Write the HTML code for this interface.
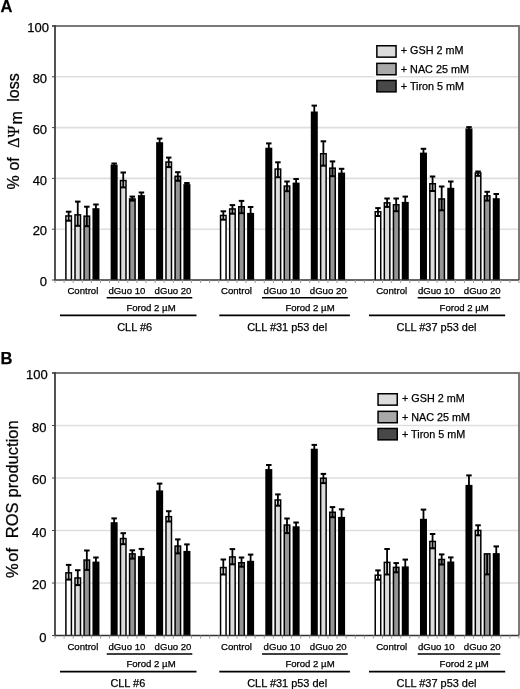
<!DOCTYPE html>
<html><head><meta charset="utf-8"><style>
html,body{margin:0;padding:0;background:#fff;}
svg{display:block;will-change:transform;}
text{font-family:"Liberation Sans", sans-serif;fill:#000;stroke:#000;stroke-width:0.25px;}
</style></head><body>
<svg width="520" height="689" viewBox="0 0 520 689">
<rect width="520" height="689" fill="#fff"/>
<line x1="56" y1="229.2" x2="518" y2="229.2" stroke="#dedede" stroke-width="1.6"/>
<line x1="56" y1="178.4" x2="518" y2="178.4" stroke="#dedede" stroke-width="1.6"/>
<line x1="56" y1="127.6" x2="518" y2="127.6" stroke="#dedede" stroke-width="1.6"/>
<line x1="56" y1="76.8" x2="518" y2="76.8" stroke="#dedede" stroke-width="1.6"/>
<rect x="65.15" y="215.2" width="7" height="64.8" fill="#000"/>
<rect x="66.65" y="216.7" width="4" height="63.3" fill="#ffffff"/>
<rect x="65.9" y="210.7" width="5.5" height="2" fill="#000"/>
<rect x="65.9" y="219.7" width="5.5" height="2" fill="#000"/>
<rect x="67.75" y="211.7" width="1.8" height="9" fill="#000"/>
<rect x="74.25" y="214.1" width="7" height="65.9" fill="#000"/>
<rect x="75.75" y="215.6" width="4" height="64.4" fill="#dcdcdc"/>
<rect x="75" y="200.6" width="5.5" height="2" fill="#000"/>
<rect x="75" y="224.8" width="5.5" height="2" fill="#000"/>
<rect x="76.85" y="201.6" width="1.8" height="24.2" fill="#000"/>
<rect x="83.34" y="215.4" width="7" height="64.6" fill="#000"/>
<rect x="84.84" y="216.9" width="4" height="63.1" fill="#959595"/>
<rect x="84.09" y="205.7" width="5.5" height="2" fill="#000"/>
<rect x="84.09" y="225.2" width="5.5" height="2" fill="#000"/>
<rect x="85.94" y="206.7" width="1.8" height="19.5" fill="#000"/>
<rect x="92.44" y="208.2" width="7" height="71.8" fill="#000"/>
<rect x="93.19" y="203.5" width="5.5" height="2" fill="#000"/>
<rect x="95.04" y="204.5" width="1.8" height="9.4" fill="#000"/>
<rect x="110.64" y="164.6" width="7" height="115.4" fill="#000"/>
<rect x="111.39" y="162.5" width="5.5" height="2" fill="#000"/>
<rect x="113.24" y="163.5" width="1.8" height="4.2" fill="#000"/>
<rect x="119.74" y="179.8" width="7" height="100.2" fill="#000"/>
<rect x="121.24" y="181.3" width="4" height="98.7" fill="#dcdcdc"/>
<rect x="120.49" y="171.5" width="5.5" height="2" fill="#000"/>
<rect x="120.49" y="186.4" width="5.5" height="2" fill="#000"/>
<rect x="122.34" y="172.5" width="1.8" height="14.9" fill="#000"/>
<rect x="128.83" y="198.2" width="7" height="81.8" fill="#000"/>
<rect x="130.33" y="199.7" width="4" height="80.3" fill="#959595"/>
<rect x="129.58" y="195.6" width="5.5" height="2" fill="#000"/>
<rect x="129.58" y="199.6" width="5.5" height="2" fill="#000"/>
<rect x="131.43" y="196.6" width="1.8" height="4" fill="#000"/>
<rect x="137.93" y="195.1" width="7" height="84.9" fill="#000"/>
<rect x="138.68" y="191.5" width="5.5" height="2" fill="#000"/>
<rect x="140.53" y="192.5" width="1.8" height="7.2" fill="#000"/>
<rect x="156.13" y="142.2" width="7" height="137.8" fill="#000"/>
<rect x="156.88" y="137.6" width="5.5" height="2" fill="#000"/>
<rect x="158.73" y="138.6" width="1.8" height="9.2" fill="#000"/>
<rect x="165.23" y="161.3" width="7" height="118.7" fill="#000"/>
<rect x="166.73" y="162.8" width="4" height="117.2" fill="#dcdcdc"/>
<rect x="165.98" y="156.6" width="5.5" height="2" fill="#000"/>
<rect x="165.98" y="166.1" width="5.5" height="2" fill="#000"/>
<rect x="167.83" y="157.6" width="1.8" height="9.5" fill="#000"/>
<rect x="174.32" y="175.5" width="7" height="104.5" fill="#000"/>
<rect x="175.82" y="177" width="4" height="103" fill="#959595"/>
<rect x="175.07" y="171.2" width="5.5" height="2" fill="#000"/>
<rect x="175.07" y="179.8" width="5.5" height="2" fill="#000"/>
<rect x="176.92" y="172.2" width="1.8" height="8.6" fill="#000"/>
<rect x="183.42" y="184.1" width="7" height="95.9" fill="#000"/>
<rect x="184.17" y="182" width="5.5" height="2" fill="#000"/>
<rect x="186.02" y="183" width="1.8" height="4.2" fill="#000"/>
<rect x="219.81" y="214.7" width="7" height="65.3" fill="#000"/>
<rect x="221.31" y="216.2" width="4" height="63.8" fill="#ffffff"/>
<rect x="220.56" y="210.3" width="5.5" height="2" fill="#000"/>
<rect x="220.56" y="218.7" width="5.5" height="2" fill="#000"/>
<rect x="222.41" y="211.3" width="1.8" height="8.4" fill="#000"/>
<rect x="228.91" y="208.2" width="7" height="71.8" fill="#000"/>
<rect x="230.41" y="209.7" width="4" height="70.3" fill="#dcdcdc"/>
<rect x="229.66" y="204.1" width="5.5" height="2" fill="#000"/>
<rect x="229.66" y="212.7" width="5.5" height="2" fill="#000"/>
<rect x="231.51" y="205.1" width="1.8" height="8.6" fill="#000"/>
<rect x="238.01" y="206" width="7" height="74" fill="#000"/>
<rect x="239.51" y="207.5" width="4" height="72.5" fill="#959595"/>
<rect x="238.76" y="199.9" width="5.5" height="2" fill="#000"/>
<rect x="238.76" y="212.2" width="5.5" height="2" fill="#000"/>
<rect x="240.61" y="200.9" width="1.8" height="12.3" fill="#000"/>
<rect x="247.11" y="212.9" width="7" height="67.1" fill="#000"/>
<rect x="247.86" y="206" width="5.5" height="2" fill="#000"/>
<rect x="249.71" y="207" width="1.8" height="13.8" fill="#000"/>
<rect x="265.3" y="147.7" width="7" height="132.3" fill="#000"/>
<rect x="266.05" y="142.4" width="5.5" height="2" fill="#000"/>
<rect x="267.9" y="143.4" width="1.8" height="10.6" fill="#000"/>
<rect x="274.4" y="168.3" width="7" height="111.7" fill="#000"/>
<rect x="275.9" y="169.8" width="4" height="110.2" fill="#dcdcdc"/>
<rect x="275.15" y="161.3" width="5.5" height="2" fill="#000"/>
<rect x="275.15" y="176.3" width="5.5" height="2" fill="#000"/>
<rect x="277" y="162.3" width="1.8" height="15" fill="#000"/>
<rect x="283.5" y="185.3" width="7" height="94.7" fill="#000"/>
<rect x="285" y="186.8" width="4" height="93.2" fill="#959595"/>
<rect x="284.25" y="180.5" width="5.5" height="2" fill="#000"/>
<rect x="284.25" y="190.2" width="5.5" height="2" fill="#000"/>
<rect x="286.1" y="181.5" width="1.8" height="9.7" fill="#000"/>
<rect x="292.6" y="182.6" width="7" height="97.4" fill="#000"/>
<rect x="293.35" y="178" width="5.5" height="2" fill="#000"/>
<rect x="295.2" y="179" width="1.8" height="9.2" fill="#000"/>
<rect x="310.79" y="111.5" width="7" height="168.5" fill="#000"/>
<rect x="311.54" y="104.6" width="5.5" height="2" fill="#000"/>
<rect x="313.39" y="105.6" width="1.8" height="13.8" fill="#000"/>
<rect x="319.89" y="153" width="7" height="127" fill="#000"/>
<rect x="321.39" y="154.5" width="4" height="125.5" fill="#dcdcdc"/>
<rect x="320.64" y="140.3" width="5.5" height="2" fill="#000"/>
<rect x="320.64" y="164.7" width="5.5" height="2" fill="#000"/>
<rect x="322.49" y="141.3" width="1.8" height="24.4" fill="#000"/>
<rect x="328.99" y="167.4" width="7" height="112.6" fill="#000"/>
<rect x="330.49" y="168.9" width="4" height="111.1" fill="#959595"/>
<rect x="329.74" y="160.4" width="5.5" height="2" fill="#000"/>
<rect x="329.74" y="175.2" width="5.5" height="2" fill="#000"/>
<rect x="331.59" y="161.4" width="1.8" height="14.8" fill="#000"/>
<rect x="338.09" y="172.6" width="7" height="107.4" fill="#000"/>
<rect x="338.84" y="167.8" width="5.5" height="2" fill="#000"/>
<rect x="340.69" y="168.8" width="1.8" height="9.6" fill="#000"/>
<rect x="374.48" y="211" width="7" height="69" fill="#000"/>
<rect x="375.98" y="212.5" width="4" height="67.5" fill="#ffffff"/>
<rect x="375.23" y="207.1" width="5.5" height="2" fill="#000"/>
<rect x="375.23" y="215" width="5.5" height="2" fill="#000"/>
<rect x="377.08" y="208.1" width="1.8" height="7.9" fill="#000"/>
<rect x="383.58" y="202.1" width="7" height="77.9" fill="#000"/>
<rect x="385.08" y="203.6" width="4" height="76.4" fill="#dcdcdc"/>
<rect x="384.33" y="197.5" width="5.5" height="2" fill="#000"/>
<rect x="384.33" y="205.9" width="5.5" height="2" fill="#000"/>
<rect x="386.18" y="198.5" width="1.8" height="8.4" fill="#000"/>
<rect x="392.68" y="204" width="7" height="76" fill="#000"/>
<rect x="394.18" y="205.5" width="4" height="74.5" fill="#959595"/>
<rect x="393.43" y="197.5" width="5.5" height="2" fill="#000"/>
<rect x="393.43" y="210.2" width="5.5" height="2" fill="#000"/>
<rect x="395.28" y="198.5" width="1.8" height="12.7" fill="#000"/>
<rect x="401.77" y="201.9" width="7" height="78.1" fill="#000"/>
<rect x="402.52" y="195.6" width="5.5" height="2" fill="#000"/>
<rect x="404.37" y="196.6" width="1.8" height="12.6" fill="#000"/>
<rect x="419.97" y="152.6" width="7" height="127.4" fill="#000"/>
<rect x="420.72" y="147.8" width="5.5" height="2" fill="#000"/>
<rect x="422.57" y="148.8" width="1.8" height="9.6" fill="#000"/>
<rect x="429.07" y="183" width="7" height="97" fill="#000"/>
<rect x="430.57" y="184.5" width="4" height="95.5" fill="#dcdcdc"/>
<rect x="429.82" y="175.5" width="5.5" height="2" fill="#000"/>
<rect x="429.82" y="190" width="5.5" height="2" fill="#000"/>
<rect x="431.67" y="176.5" width="1.8" height="14.5" fill="#000"/>
<rect x="438.17" y="198.2" width="7" height="81.8" fill="#000"/>
<rect x="439.67" y="199.7" width="4" height="80.3" fill="#959595"/>
<rect x="438.92" y="185.5" width="5.5" height="2" fill="#000"/>
<rect x="438.92" y="209.3" width="5.5" height="2" fill="#000"/>
<rect x="440.77" y="186.5" width="1.8" height="23.8" fill="#000"/>
<rect x="447.26" y="187.8" width="7" height="92.2" fill="#000"/>
<rect x="448.01" y="180.5" width="5.5" height="2" fill="#000"/>
<rect x="449.86" y="181.5" width="1.8" height="14.6" fill="#000"/>
<rect x="465.46" y="128.4" width="7" height="151.6" fill="#000"/>
<rect x="466.21" y="126.1" width="5.5" height="2" fill="#000"/>
<rect x="468.06" y="127.1" width="1.8" height="4.6" fill="#000"/>
<rect x="474.56" y="172.2" width="7" height="107.8" fill="#000"/>
<rect x="476.06" y="173.7" width="4" height="106.3" fill="#dcdcdc"/>
<rect x="475.31" y="170.5" width="5.5" height="2" fill="#000"/>
<rect x="475.31" y="174.8" width="5.5" height="2" fill="#000"/>
<rect x="477.16" y="171.5" width="1.8" height="4.3" fill="#000"/>
<rect x="483.66" y="195.1" width="7" height="84.9" fill="#000"/>
<rect x="485.16" y="196.6" width="4" height="83.4" fill="#959595"/>
<rect x="484.41" y="190.8" width="5.5" height="2" fill="#000"/>
<rect x="484.41" y="199.6" width="5.5" height="2" fill="#000"/>
<rect x="486.26" y="191.8" width="1.8" height="8.8" fill="#000"/>
<rect x="492.75" y="198.2" width="7" height="81.8" fill="#000"/>
<rect x="493.5" y="193" width="5.5" height="2" fill="#000"/>
<rect x="495.35" y="194" width="1.8" height="10.4" fill="#000"/>
<line x1="52" y1="26" x2="520" y2="26" stroke="#7a7a7a" stroke-width="2"/>
<line x1="519" y1="26" x2="519" y2="280" stroke="#7a7a7a" stroke-width="2"/>
<line x1="52" y1="280" x2="55" y2="280" stroke="#444" stroke-width="1"/>
<line x1="52" y1="229.2" x2="55" y2="229.2" stroke="#444" stroke-width="1"/>
<line x1="52" y1="178.4" x2="55" y2="178.4" stroke="#444" stroke-width="1"/>
<line x1="52" y1="127.6" x2="55" y2="127.6" stroke="#444" stroke-width="1"/>
<line x1="52" y1="76.8" x2="55" y2="76.8" stroke="#444" stroke-width="1"/>
<line x1="52" y1="26" x2="55" y2="26" stroke="#444" stroke-width="1"/>
<line x1="55" y1="25" x2="55" y2="280.75" stroke="#404040" stroke-width="1.8"/>
<line x1="55" y1="280" x2="519" y2="280" stroke="#333" stroke-width="1.5"/>
<line x1="55" y1="280" x2="55" y2="283" stroke="#9a9a9a" stroke-width="1"/>
<line x1="64.1" y1="280" x2="64.1" y2="283" stroke="#9a9a9a" stroke-width="1"/>
<line x1="73.2" y1="280" x2="73.2" y2="283" stroke="#9a9a9a" stroke-width="1"/>
<line x1="82.29" y1="280" x2="82.29" y2="283" stroke="#9a9a9a" stroke-width="1"/>
<line x1="91.39" y1="280" x2="91.39" y2="283" stroke="#9a9a9a" stroke-width="1"/>
<line x1="100.49" y1="280" x2="100.49" y2="283" stroke="#9a9a9a" stroke-width="1"/>
<line x1="109.59" y1="280" x2="109.59" y2="283" stroke="#9a9a9a" stroke-width="1"/>
<line x1="118.69" y1="280" x2="118.69" y2="283" stroke="#9a9a9a" stroke-width="1"/>
<line x1="127.78" y1="280" x2="127.78" y2="283" stroke="#9a9a9a" stroke-width="1"/>
<line x1="136.88" y1="280" x2="136.88" y2="283" stroke="#9a9a9a" stroke-width="1"/>
<line x1="145.98" y1="280" x2="145.98" y2="283" stroke="#9a9a9a" stroke-width="1"/>
<line x1="155.08" y1="280" x2="155.08" y2="283" stroke="#9a9a9a" stroke-width="1"/>
<line x1="164.18" y1="280" x2="164.18" y2="283" stroke="#9a9a9a" stroke-width="1"/>
<line x1="173.27" y1="280" x2="173.27" y2="283" stroke="#9a9a9a" stroke-width="1"/>
<line x1="182.37" y1="280" x2="182.37" y2="283" stroke="#9a9a9a" stroke-width="1"/>
<line x1="191.47" y1="280" x2="191.47" y2="283" stroke="#9a9a9a" stroke-width="1"/>
<line x1="200.57" y1="280" x2="200.57" y2="283" stroke="#9a9a9a" stroke-width="1"/>
<line x1="209.67" y1="280" x2="209.67" y2="283" stroke="#9a9a9a" stroke-width="1"/>
<line x1="218.76" y1="280" x2="218.76" y2="283" stroke="#9a9a9a" stroke-width="1"/>
<line x1="227.86" y1="280" x2="227.86" y2="283" stroke="#9a9a9a" stroke-width="1"/>
<line x1="236.96" y1="280" x2="236.96" y2="283" stroke="#9a9a9a" stroke-width="1"/>
<line x1="246.06" y1="280" x2="246.06" y2="283" stroke="#9a9a9a" stroke-width="1"/>
<line x1="255.16" y1="280" x2="255.16" y2="283" stroke="#9a9a9a" stroke-width="1"/>
<line x1="264.25" y1="280" x2="264.25" y2="283" stroke="#9a9a9a" stroke-width="1"/>
<line x1="273.35" y1="280" x2="273.35" y2="283" stroke="#9a9a9a" stroke-width="1"/>
<line x1="282.45" y1="280" x2="282.45" y2="283" stroke="#9a9a9a" stroke-width="1"/>
<line x1="291.55" y1="280" x2="291.55" y2="283" stroke="#9a9a9a" stroke-width="1"/>
<line x1="300.65" y1="280" x2="300.65" y2="283" stroke="#9a9a9a" stroke-width="1"/>
<line x1="309.74" y1="280" x2="309.74" y2="283" stroke="#9a9a9a" stroke-width="1"/>
<line x1="318.84" y1="280" x2="318.84" y2="283" stroke="#9a9a9a" stroke-width="1"/>
<line x1="327.94" y1="280" x2="327.94" y2="283" stroke="#9a9a9a" stroke-width="1"/>
<line x1="337.04" y1="280" x2="337.04" y2="283" stroke="#9a9a9a" stroke-width="1"/>
<line x1="346.14" y1="280" x2="346.14" y2="283" stroke="#9a9a9a" stroke-width="1"/>
<line x1="355.23" y1="280" x2="355.23" y2="283" stroke="#9a9a9a" stroke-width="1"/>
<line x1="364.33" y1="280" x2="364.33" y2="283" stroke="#9a9a9a" stroke-width="1"/>
<line x1="373.43" y1="280" x2="373.43" y2="283" stroke="#9a9a9a" stroke-width="1"/>
<line x1="382.53" y1="280" x2="382.53" y2="283" stroke="#9a9a9a" stroke-width="1"/>
<line x1="391.63" y1="280" x2="391.63" y2="283" stroke="#9a9a9a" stroke-width="1"/>
<line x1="400.72" y1="280" x2="400.72" y2="283" stroke="#9a9a9a" stroke-width="1"/>
<line x1="409.82" y1="280" x2="409.82" y2="283" stroke="#9a9a9a" stroke-width="1"/>
<line x1="418.92" y1="280" x2="418.92" y2="283" stroke="#9a9a9a" stroke-width="1"/>
<line x1="428.02" y1="280" x2="428.02" y2="283" stroke="#9a9a9a" stroke-width="1"/>
<line x1="437.12" y1="280" x2="437.12" y2="283" stroke="#9a9a9a" stroke-width="1"/>
<line x1="446.21" y1="280" x2="446.21" y2="283" stroke="#9a9a9a" stroke-width="1"/>
<line x1="455.31" y1="280" x2="455.31" y2="283" stroke="#9a9a9a" stroke-width="1"/>
<line x1="464.41" y1="280" x2="464.41" y2="283" stroke="#9a9a9a" stroke-width="1"/>
<line x1="473.51" y1="280" x2="473.51" y2="283" stroke="#9a9a9a" stroke-width="1"/>
<line x1="482.61" y1="280" x2="482.61" y2="283" stroke="#9a9a9a" stroke-width="1"/>
<line x1="491.7" y1="280" x2="491.7" y2="283" stroke="#9a9a9a" stroke-width="1"/>
<line x1="500.8" y1="280" x2="500.8" y2="283" stroke="#9a9a9a" stroke-width="1"/>
<line x1="509.9" y1="280" x2="509.9" y2="283" stroke="#9a9a9a" stroke-width="1"/>
<line x1="519" y1="280" x2="519" y2="283" stroke="#9a9a9a" stroke-width="1"/>
<text x="47.1" y="286.2" font-size="13" text-anchor="end">0</text>
<text x="47.1" y="235.4" font-size="13" text-anchor="end">20</text>
<text x="47.1" y="184.6" font-size="13" text-anchor="end">40</text>
<text x="47.1" y="133.8" font-size="13" text-anchor="end">60</text>
<text x="47.1" y="83" font-size="13" text-anchor="end">80</text>
<text x="48.9" y="32.2" font-size="13" text-anchor="end">100</text>
<text x="0.4" y="12.4" font-size="16.5" font-weight="bold">A</text>
<rect x="374.6" y="43.5" width="23.7" height="15.9" fill="#fff"/>
<rect x="376.85" y="45.75" width="19.2" height="11.4" fill="#dcdcdc" stroke="#000" stroke-width="1.5"/>
<text x="400.8" y="54" font-size="10.8">+ GSH 2 mM</text>
<rect x="374.6" y="61.1" width="23.7" height="15.9" fill="#fff"/>
<rect x="376.85" y="63.35" width="19.2" height="11.4" fill="#a8a8a8" stroke="#000" stroke-width="1.5"/>
<text x="400.8" y="72.5" font-size="10.8">+ NAC 25 mM</text>
<rect x="374.6" y="78.2" width="23.7" height="15.9" fill="#fff"/>
<rect x="376.85" y="80.45" width="19.2" height="11.4" fill="#484848" stroke="#000" stroke-width="1.5"/>
<text x="400.8" y="90.2" font-size="10.8">+ Tiron 5 mM</text>
<text x="67.4" y="293.9" font-size="9.6">Control</text>
<text x="108.5" y="293.9" font-size="9.6">dGuo 10</text>
<text x="154.6" y="293.9" font-size="9.6">dGuo 20</text>
<text x="221" y="293.9" font-size="9.6">Control</text>
<text x="263.6" y="293.9" font-size="9.6">dGuo 10</text>
<text x="309.8" y="293.9" font-size="9.6">dGuo 20</text>
<text x="376.2" y="293.9" font-size="9.6">Control</text>
<text x="417.9" y="293.9" font-size="9.6">dGuo 10</text>
<text x="463.8" y="293.9" font-size="9.6">dGuo 20</text>
<line x1="106.7" y1="297.8" x2="192.3" y2="297.8" stroke="#000" stroke-width="1.6"/>
<text x="126.4" y="310.6" font-size="9.6">Forod 2 µM</text>
<line x1="262" y1="297.8" x2="347.8" y2="297.8" stroke="#000" stroke-width="1.6"/>
<text x="285.4" y="310.6" font-size="9.6">Forod 2 µM</text>
<line x1="417.7" y1="297.8" x2="500.3" y2="297.8" stroke="#000" stroke-width="1.6"/>
<text x="439.6" y="310.6" font-size="9.6">Forod 2 µM</text>
<line x1="60" y1="315.4" x2="196.5" y2="315.4" stroke="#000" stroke-width="1.6"/>
<text x="117.2" y="330.5" font-size="10.95">CLL #6</text>
<line x1="219.3" y1="315.4" x2="349.9" y2="315.4" stroke="#000" stroke-width="1.6"/>
<text x="247.2" y="330.5" font-size="10.95">CLL #31 p53 del</text>
<line x1="369" y1="315.4" x2="505.2" y2="315.4" stroke="#000" stroke-width="1.6"/>
<text x="396.6" y="330.5" font-size="10.95">CLL #37 p53 del</text>
<g font-size="16">
<text transform="translate(18.6,189.6) rotate(-90)">%</text>
<text transform="translate(18.6,170.6) rotate(-90)">of</text>
<text transform="translate(18.6,147.8) rotate(-90)" style="font-family:'Liberation Serif', serif">Δ</text>
<text transform="translate(18.6,137.6) rotate(-90)" style="font-family:'Liberation Serif', serif">Ψ</text>
<text transform="translate(22.4,124.6) rotate(-90)">m</text>
<text transform="translate(18.6,101.8) rotate(-90)">loss</text>
</g>
<line x1="56" y1="583" x2="518" y2="583" stroke="#dedede" stroke-width="1.6"/>
<line x1="56" y1="530.5" x2="518" y2="530.5" stroke="#dedede" stroke-width="1.6"/>
<line x1="56" y1="478" x2="518" y2="478" stroke="#dedede" stroke-width="1.6"/>
<line x1="56" y1="425.5" x2="518" y2="425.5" stroke="#dedede" stroke-width="1.6"/>
<rect x="65.15" y="572.1" width="7" height="63.4" fill="#000"/>
<rect x="66.65" y="573.6" width="4" height="61.9" fill="#ffffff"/>
<rect x="65.9" y="563.9" width="5.5" height="2" fill="#000"/>
<rect x="65.9" y="578.6" width="5.5" height="2" fill="#000"/>
<rect x="67.75" y="564.9" width="1.8" height="14.7" fill="#000"/>
<rect x="74.25" y="577.2" width="7" height="58.3" fill="#000"/>
<rect x="75.75" y="578.7" width="4" height="56.8" fill="#dcdcdc"/>
<rect x="75" y="569.2" width="5.5" height="2" fill="#000"/>
<rect x="75" y="584.1" width="5.5" height="2" fill="#000"/>
<rect x="76.85" y="570.2" width="1.8" height="14.9" fill="#000"/>
<rect x="83.34" y="559.3" width="7" height="76.2" fill="#000"/>
<rect x="84.84" y="560.8" width="4" height="74.7" fill="#959595"/>
<rect x="84.09" y="549.5" width="5.5" height="2" fill="#000"/>
<rect x="84.09" y="568.9" width="5.5" height="2" fill="#000"/>
<rect x="85.94" y="550.5" width="1.8" height="19.4" fill="#000"/>
<rect x="92.44" y="561.6" width="7" height="73.9" fill="#000"/>
<rect x="93.19" y="556.5" width="5.5" height="2" fill="#000"/>
<rect x="95.04" y="557.5" width="1.8" height="10.2" fill="#000"/>
<rect x="110.64" y="522.2" width="7" height="113.3" fill="#000"/>
<rect x="111.39" y="517.4" width="5.5" height="2" fill="#000"/>
<rect x="113.24" y="518.4" width="1.8" height="9.6" fill="#000"/>
<rect x="119.74" y="537.8" width="7" height="97.7" fill="#000"/>
<rect x="121.24" y="539.3" width="4" height="96.2" fill="#dcdcdc"/>
<rect x="120.49" y="532.2" width="5.5" height="2" fill="#000"/>
<rect x="120.49" y="543.2" width="5.5" height="2" fill="#000"/>
<rect x="122.34" y="533.2" width="1.8" height="11" fill="#000"/>
<rect x="128.83" y="553.1" width="7" height="82.4" fill="#000"/>
<rect x="130.33" y="554.6" width="4" height="80.9" fill="#959595"/>
<rect x="129.58" y="549.3" width="5.5" height="2" fill="#000"/>
<rect x="129.58" y="557.6" width="5.5" height="2" fill="#000"/>
<rect x="131.43" y="550.3" width="1.8" height="8.3" fill="#000"/>
<rect x="137.93" y="556.1" width="7" height="79.4" fill="#000"/>
<rect x="138.68" y="547.9" width="5.5" height="2" fill="#000"/>
<rect x="140.53" y="548.9" width="1.8" height="16.4" fill="#000"/>
<rect x="156.13" y="490.4" width="7" height="145.1" fill="#000"/>
<rect x="156.88" y="482.6" width="5.5" height="2" fill="#000"/>
<rect x="158.73" y="483.6" width="1.8" height="15.6" fill="#000"/>
<rect x="165.23" y="515.9" width="7" height="119.6" fill="#000"/>
<rect x="166.73" y="517.4" width="4" height="118.1" fill="#dcdcdc"/>
<rect x="165.98" y="510.2" width="5.5" height="2" fill="#000"/>
<rect x="165.98" y="520.5" width="5.5" height="2" fill="#000"/>
<rect x="167.83" y="511.2" width="1.8" height="10.3" fill="#000"/>
<rect x="174.32" y="545.3" width="7" height="90.2" fill="#000"/>
<rect x="175.82" y="546.8" width="4" height="88.7" fill="#959595"/>
<rect x="175.07" y="538.4" width="5.5" height="2" fill="#000"/>
<rect x="175.07" y="552.4" width="5.5" height="2" fill="#000"/>
<rect x="176.92" y="539.4" width="1.8" height="14" fill="#000"/>
<rect x="183.42" y="550.9" width="7" height="84.6" fill="#000"/>
<rect x="184.17" y="543.4" width="5.5" height="2" fill="#000"/>
<rect x="186.02" y="544.4" width="1.8" height="15" fill="#000"/>
<rect x="219.81" y="566.8" width="7" height="68.7" fill="#000"/>
<rect x="221.31" y="568.3" width="4" height="67.2" fill="#ffffff"/>
<rect x="220.56" y="558.5" width="5.5" height="2" fill="#000"/>
<rect x="220.56" y="573.5" width="5.5" height="2" fill="#000"/>
<rect x="222.41" y="559.5" width="1.8" height="15" fill="#000"/>
<rect x="228.91" y="556.2" width="7" height="79.3" fill="#000"/>
<rect x="230.41" y="557.7" width="4" height="77.8" fill="#dcdcdc"/>
<rect x="229.66" y="548.1" width="5.5" height="2" fill="#000"/>
<rect x="229.66" y="563.3" width="5.5" height="2" fill="#000"/>
<rect x="231.51" y="549.1" width="1.8" height="15.2" fill="#000"/>
<rect x="238.01" y="562" width="7" height="73.5" fill="#000"/>
<rect x="239.51" y="563.5" width="4" height="72" fill="#959595"/>
<rect x="238.76" y="556.5" width="5.5" height="2" fill="#000"/>
<rect x="238.76" y="565.7" width="5.5" height="2" fill="#000"/>
<rect x="240.61" y="557.5" width="1.8" height="9.2" fill="#000"/>
<rect x="247.11" y="560.8" width="7" height="74.7" fill="#000"/>
<rect x="247.86" y="553.6" width="5.5" height="2" fill="#000"/>
<rect x="249.71" y="554.6" width="1.8" height="14.4" fill="#000"/>
<rect x="265.3" y="469.1" width="7" height="166.4" fill="#000"/>
<rect x="266.05" y="464" width="5.5" height="2" fill="#000"/>
<rect x="267.9" y="465" width="1.8" height="10.2" fill="#000"/>
<rect x="274.4" y="499.2" width="7" height="136.3" fill="#000"/>
<rect x="275.9" y="500.7" width="4" height="134.8" fill="#dcdcdc"/>
<rect x="275.15" y="493.4" width="5.5" height="2" fill="#000"/>
<rect x="275.15" y="504.7" width="5.5" height="2" fill="#000"/>
<rect x="277" y="494.4" width="1.8" height="11.3" fill="#000"/>
<rect x="283.5" y="524.3" width="7" height="111.2" fill="#000"/>
<rect x="285" y="525.8" width="4" height="109.7" fill="#959595"/>
<rect x="284.25" y="517.5" width="5.5" height="2" fill="#000"/>
<rect x="284.25" y="532.1" width="5.5" height="2" fill="#000"/>
<rect x="286.1" y="518.5" width="1.8" height="14.6" fill="#000"/>
<rect x="292.6" y="526.3" width="7" height="109.2" fill="#000"/>
<rect x="293.35" y="521.5" width="5.5" height="2" fill="#000"/>
<rect x="295.2" y="522.5" width="1.8" height="9.6" fill="#000"/>
<rect x="310.79" y="448.7" width="7" height="186.8" fill="#000"/>
<rect x="311.54" y="443.9" width="5.5" height="2" fill="#000"/>
<rect x="313.39" y="444.9" width="1.8" height="9.6" fill="#000"/>
<rect x="319.89" y="477.5" width="7" height="158" fill="#000"/>
<rect x="321.39" y="479" width="4" height="156.5" fill="#dcdcdc"/>
<rect x="320.64" y="472.9" width="5.5" height="2" fill="#000"/>
<rect x="320.64" y="482.1" width="5.5" height="2" fill="#000"/>
<rect x="322.49" y="473.9" width="1.8" height="9.2" fill="#000"/>
<rect x="328.99" y="511.5" width="7" height="124" fill="#000"/>
<rect x="330.49" y="513" width="4" height="122.5" fill="#959595"/>
<rect x="329.74" y="506.1" width="5.5" height="2" fill="#000"/>
<rect x="329.74" y="516.2" width="5.5" height="2" fill="#000"/>
<rect x="331.59" y="507.1" width="1.8" height="10.1" fill="#000"/>
<rect x="338.09" y="516.9" width="7" height="118.6" fill="#000"/>
<rect x="338.84" y="508.3" width="5.5" height="2" fill="#000"/>
<rect x="340.69" y="509.3" width="1.8" height="17.2" fill="#000"/>
<rect x="374.48" y="574.4" width="7" height="61.1" fill="#000"/>
<rect x="375.98" y="575.9" width="4" height="59.6" fill="#ffffff"/>
<rect x="375.23" y="569.4" width="5.5" height="2" fill="#000"/>
<rect x="375.23" y="578.7" width="5.5" height="2" fill="#000"/>
<rect x="377.08" y="570.4" width="1.8" height="9.3" fill="#000"/>
<rect x="383.58" y="561.6" width="7" height="73.9" fill="#000"/>
<rect x="385.08" y="563.1" width="4" height="72.4" fill="#dcdcdc"/>
<rect x="384.33" y="548" width="5.5" height="2" fill="#000"/>
<rect x="384.33" y="573.5" width="5.5" height="2" fill="#000"/>
<rect x="386.18" y="549" width="1.8" height="25.5" fill="#000"/>
<rect x="392.68" y="566.6" width="7" height="68.9" fill="#000"/>
<rect x="394.18" y="568.1" width="4" height="67.4" fill="#959595"/>
<rect x="393.43" y="562.1" width="5.5" height="2" fill="#000"/>
<rect x="393.43" y="571.3" width="5.5" height="2" fill="#000"/>
<rect x="395.28" y="563.1" width="1.8" height="9.2" fill="#000"/>
<rect x="401.77" y="566.4" width="7" height="69.1" fill="#000"/>
<rect x="402.52" y="558.6" width="5.5" height="2" fill="#000"/>
<rect x="404.37" y="559.6" width="1.8" height="15.6" fill="#000"/>
<rect x="419.97" y="518.8" width="7" height="116.7" fill="#000"/>
<rect x="420.72" y="508.6" width="5.5" height="2" fill="#000"/>
<rect x="422.57" y="509.6" width="1.8" height="20.4" fill="#000"/>
<rect x="429.07" y="540.7" width="7" height="94.8" fill="#000"/>
<rect x="430.57" y="542.2" width="4" height="93.3" fill="#dcdcdc"/>
<rect x="429.82" y="533" width="5.5" height="2" fill="#000"/>
<rect x="429.82" y="547.3" width="5.5" height="2" fill="#000"/>
<rect x="431.67" y="534" width="1.8" height="14.3" fill="#000"/>
<rect x="438.17" y="558.7" width="7" height="76.8" fill="#000"/>
<rect x="439.67" y="560.2" width="4" height="75.3" fill="#959595"/>
<rect x="438.92" y="553.4" width="5.5" height="2" fill="#000"/>
<rect x="438.92" y="563.5" width="5.5" height="2" fill="#000"/>
<rect x="440.77" y="554.4" width="1.8" height="10.1" fill="#000"/>
<rect x="447.26" y="561.5" width="7" height="74" fill="#000"/>
<rect x="448.01" y="556.4" width="5.5" height="2" fill="#000"/>
<rect x="449.86" y="557.4" width="1.8" height="10.2" fill="#000"/>
<rect x="465.46" y="484.9" width="7" height="150.6" fill="#000"/>
<rect x="466.21" y="474.4" width="5.5" height="2" fill="#000"/>
<rect x="468.06" y="475.4" width="1.8" height="21" fill="#000"/>
<rect x="474.56" y="529.7" width="7" height="105.8" fill="#000"/>
<rect x="476.06" y="531.2" width="4" height="104.3" fill="#dcdcdc"/>
<rect x="475.31" y="524.3" width="5.5" height="2" fill="#000"/>
<rect x="475.31" y="534.3" width="5.5" height="2" fill="#000"/>
<rect x="477.16" y="525.3" width="1.8" height="10" fill="#000"/>
<rect x="483.66" y="553.1" width="7" height="82.4" fill="#000"/>
<rect x="485.16" y="554.6" width="4" height="80.9" fill="#959595"/>
<rect x="484.41" y="573.4" width="5.5" height="2" fill="#000"/>
<rect x="486.26" y="554.1" width="1.8" height="20.3" fill="#000"/>
<rect x="492.75" y="553.1" width="7" height="82.4" fill="#000"/>
<rect x="493.5" y="545.4" width="5.5" height="2" fill="#000"/>
<rect x="495.35" y="546.4" width="1.8" height="15.4" fill="#000"/>
<line x1="52" y1="373" x2="520" y2="373" stroke="#7a7a7a" stroke-width="2"/>
<line x1="519" y1="373" x2="519" y2="635.5" stroke="#7a7a7a" stroke-width="2"/>
<line x1="52" y1="635.5" x2="55" y2="635.5" stroke="#444" stroke-width="1"/>
<line x1="52" y1="583" x2="55" y2="583" stroke="#444" stroke-width="1"/>
<line x1="52" y1="530.5" x2="55" y2="530.5" stroke="#444" stroke-width="1"/>
<line x1="52" y1="478" x2="55" y2="478" stroke="#444" stroke-width="1"/>
<line x1="52" y1="425.5" x2="55" y2="425.5" stroke="#444" stroke-width="1"/>
<line x1="52" y1="373" x2="55" y2="373" stroke="#444" stroke-width="1"/>
<line x1="55" y1="372" x2="55" y2="636.25" stroke="#404040" stroke-width="1.8"/>
<line x1="55" y1="635.5" x2="519" y2="635.5" stroke="#333" stroke-width="1.5"/>
<line x1="55" y1="635.5" x2="55" y2="638.5" stroke="#9a9a9a" stroke-width="1"/>
<line x1="64.1" y1="635.5" x2="64.1" y2="638.5" stroke="#9a9a9a" stroke-width="1"/>
<line x1="73.2" y1="635.5" x2="73.2" y2="638.5" stroke="#9a9a9a" stroke-width="1"/>
<line x1="82.29" y1="635.5" x2="82.29" y2="638.5" stroke="#9a9a9a" stroke-width="1"/>
<line x1="91.39" y1="635.5" x2="91.39" y2="638.5" stroke="#9a9a9a" stroke-width="1"/>
<line x1="100.49" y1="635.5" x2="100.49" y2="638.5" stroke="#9a9a9a" stroke-width="1"/>
<line x1="109.59" y1="635.5" x2="109.59" y2="638.5" stroke="#9a9a9a" stroke-width="1"/>
<line x1="118.69" y1="635.5" x2="118.69" y2="638.5" stroke="#9a9a9a" stroke-width="1"/>
<line x1="127.78" y1="635.5" x2="127.78" y2="638.5" stroke="#9a9a9a" stroke-width="1"/>
<line x1="136.88" y1="635.5" x2="136.88" y2="638.5" stroke="#9a9a9a" stroke-width="1"/>
<line x1="145.98" y1="635.5" x2="145.98" y2="638.5" stroke="#9a9a9a" stroke-width="1"/>
<line x1="155.08" y1="635.5" x2="155.08" y2="638.5" stroke="#9a9a9a" stroke-width="1"/>
<line x1="164.18" y1="635.5" x2="164.18" y2="638.5" stroke="#9a9a9a" stroke-width="1"/>
<line x1="173.27" y1="635.5" x2="173.27" y2="638.5" stroke="#9a9a9a" stroke-width="1"/>
<line x1="182.37" y1="635.5" x2="182.37" y2="638.5" stroke="#9a9a9a" stroke-width="1"/>
<line x1="191.47" y1="635.5" x2="191.47" y2="638.5" stroke="#9a9a9a" stroke-width="1"/>
<line x1="200.57" y1="635.5" x2="200.57" y2="638.5" stroke="#9a9a9a" stroke-width="1"/>
<line x1="209.67" y1="635.5" x2="209.67" y2="638.5" stroke="#9a9a9a" stroke-width="1"/>
<line x1="218.76" y1="635.5" x2="218.76" y2="638.5" stroke="#9a9a9a" stroke-width="1"/>
<line x1="227.86" y1="635.5" x2="227.86" y2="638.5" stroke="#9a9a9a" stroke-width="1"/>
<line x1="236.96" y1="635.5" x2="236.96" y2="638.5" stroke="#9a9a9a" stroke-width="1"/>
<line x1="246.06" y1="635.5" x2="246.06" y2="638.5" stroke="#9a9a9a" stroke-width="1"/>
<line x1="255.16" y1="635.5" x2="255.16" y2="638.5" stroke="#9a9a9a" stroke-width="1"/>
<line x1="264.25" y1="635.5" x2="264.25" y2="638.5" stroke="#9a9a9a" stroke-width="1"/>
<line x1="273.35" y1="635.5" x2="273.35" y2="638.5" stroke="#9a9a9a" stroke-width="1"/>
<line x1="282.45" y1="635.5" x2="282.45" y2="638.5" stroke="#9a9a9a" stroke-width="1"/>
<line x1="291.55" y1="635.5" x2="291.55" y2="638.5" stroke="#9a9a9a" stroke-width="1"/>
<line x1="300.65" y1="635.5" x2="300.65" y2="638.5" stroke="#9a9a9a" stroke-width="1"/>
<line x1="309.74" y1="635.5" x2="309.74" y2="638.5" stroke="#9a9a9a" stroke-width="1"/>
<line x1="318.84" y1="635.5" x2="318.84" y2="638.5" stroke="#9a9a9a" stroke-width="1"/>
<line x1="327.94" y1="635.5" x2="327.94" y2="638.5" stroke="#9a9a9a" stroke-width="1"/>
<line x1="337.04" y1="635.5" x2="337.04" y2="638.5" stroke="#9a9a9a" stroke-width="1"/>
<line x1="346.14" y1="635.5" x2="346.14" y2="638.5" stroke="#9a9a9a" stroke-width="1"/>
<line x1="355.23" y1="635.5" x2="355.23" y2="638.5" stroke="#9a9a9a" stroke-width="1"/>
<line x1="364.33" y1="635.5" x2="364.33" y2="638.5" stroke="#9a9a9a" stroke-width="1"/>
<line x1="373.43" y1="635.5" x2="373.43" y2="638.5" stroke="#9a9a9a" stroke-width="1"/>
<line x1="382.53" y1="635.5" x2="382.53" y2="638.5" stroke="#9a9a9a" stroke-width="1"/>
<line x1="391.63" y1="635.5" x2="391.63" y2="638.5" stroke="#9a9a9a" stroke-width="1"/>
<line x1="400.72" y1="635.5" x2="400.72" y2="638.5" stroke="#9a9a9a" stroke-width="1"/>
<line x1="409.82" y1="635.5" x2="409.82" y2="638.5" stroke="#9a9a9a" stroke-width="1"/>
<line x1="418.92" y1="635.5" x2="418.92" y2="638.5" stroke="#9a9a9a" stroke-width="1"/>
<line x1="428.02" y1="635.5" x2="428.02" y2="638.5" stroke="#9a9a9a" stroke-width="1"/>
<line x1="437.12" y1="635.5" x2="437.12" y2="638.5" stroke="#9a9a9a" stroke-width="1"/>
<line x1="446.21" y1="635.5" x2="446.21" y2="638.5" stroke="#9a9a9a" stroke-width="1"/>
<line x1="455.31" y1="635.5" x2="455.31" y2="638.5" stroke="#9a9a9a" stroke-width="1"/>
<line x1="464.41" y1="635.5" x2="464.41" y2="638.5" stroke="#9a9a9a" stroke-width="1"/>
<line x1="473.51" y1="635.5" x2="473.51" y2="638.5" stroke="#9a9a9a" stroke-width="1"/>
<line x1="482.61" y1="635.5" x2="482.61" y2="638.5" stroke="#9a9a9a" stroke-width="1"/>
<line x1="491.7" y1="635.5" x2="491.7" y2="638.5" stroke="#9a9a9a" stroke-width="1"/>
<line x1="500.8" y1="635.5" x2="500.8" y2="638.5" stroke="#9a9a9a" stroke-width="1"/>
<line x1="509.9" y1="635.5" x2="509.9" y2="638.5" stroke="#9a9a9a" stroke-width="1"/>
<line x1="519" y1="635.5" x2="519" y2="638.5" stroke="#9a9a9a" stroke-width="1"/>
<text x="46.4" y="641.7" font-size="13" text-anchor="end">0</text>
<text x="46.4" y="589.2" font-size="13" text-anchor="end">20</text>
<text x="46.4" y="536.7" font-size="13" text-anchor="end">40</text>
<text x="46.4" y="484.2" font-size="13" text-anchor="end">60</text>
<text x="46.4" y="431.7" font-size="13" text-anchor="end">80</text>
<text x="47.8" y="379.2" font-size="13" text-anchor="end">100</text>
<text x="0.4" y="364.2" font-size="16.5" font-weight="bold">B</text>
<rect x="375.8" y="391.5" width="23.7" height="15.9" fill="#fff"/>
<rect x="378.05" y="393.75" width="19.2" height="11.4" fill="#dcdcdc" stroke="#000" stroke-width="1.5"/>
<text x="402" y="402" font-size="10.8">+ GSH 2 mM</text>
<rect x="375.8" y="409.1" width="23.7" height="15.9" fill="#fff"/>
<rect x="378.05" y="411.35" width="19.2" height="11.4" fill="#a8a8a8" stroke="#000" stroke-width="1.5"/>
<text x="402" y="420.5" font-size="10.8">+ NAC 25 mM</text>
<rect x="375.8" y="426.2" width="23.7" height="15.9" fill="#fff"/>
<rect x="378.05" y="428.45" width="19.2" height="11.4" fill="#484848" stroke="#000" stroke-width="1.5"/>
<text x="402" y="438.2" font-size="10.8">+ Tiron 5 mM</text>
<text x="67.4" y="650.1" font-size="9.6">Control</text>
<text x="108.5" y="650.1" font-size="9.6">dGuo 10</text>
<text x="154.6" y="650.1" font-size="9.6">dGuo 20</text>
<text x="221" y="650.1" font-size="9.6">Control</text>
<text x="263.6" y="650.1" font-size="9.6">dGuo 10</text>
<text x="309.8" y="650.1" font-size="9.6">dGuo 20</text>
<text x="376.2" y="650.1" font-size="9.6">Control</text>
<text x="417.9" y="650.1" font-size="9.6">dGuo 10</text>
<text x="463.8" y="650.1" font-size="9.6">dGuo 20</text>
<line x1="106.7" y1="654" x2="192.3" y2="654" stroke="#000" stroke-width="1.6"/>
<text x="126.4" y="666.8" font-size="9.6">Forod 2 µM</text>
<line x1="262" y1="654" x2="347.8" y2="654" stroke="#000" stroke-width="1.6"/>
<text x="285.4" y="666.8" font-size="9.6">Forod 2 µM</text>
<line x1="417.7" y1="654" x2="500.3" y2="654" stroke="#000" stroke-width="1.6"/>
<text x="439.6" y="666.8" font-size="9.6">Forod 2 µM</text>
<line x1="60" y1="671.6" x2="196.5" y2="671.6" stroke="#000" stroke-width="1.6"/>
<text x="110.4" y="686.7" font-size="10.95">CLL #6</text>
<line x1="219.3" y1="671.6" x2="349.9" y2="671.6" stroke="#000" stroke-width="1.6"/>
<text x="247.2" y="686.7" font-size="10.95">CLL #31 p53 del</text>
<line x1="369" y1="671.6" x2="505.2" y2="671.6" stroke="#000" stroke-width="1.6"/>
<text x="396.6" y="686.7" font-size="10.95">CLL #37 p53 del</text>
<g font-size="16.5">
<text transform="translate(18.4,578.0) rotate(-90)">%</text>
<text transform="translate(18.4,561.8) rotate(-90)">of</text>
<text transform="translate(18.4,538.2) rotate(-90)">ROS</text>
<text transform="translate(18.4,497.4) rotate(-90)">production</text>
</g>
</svg>
</body></html>
